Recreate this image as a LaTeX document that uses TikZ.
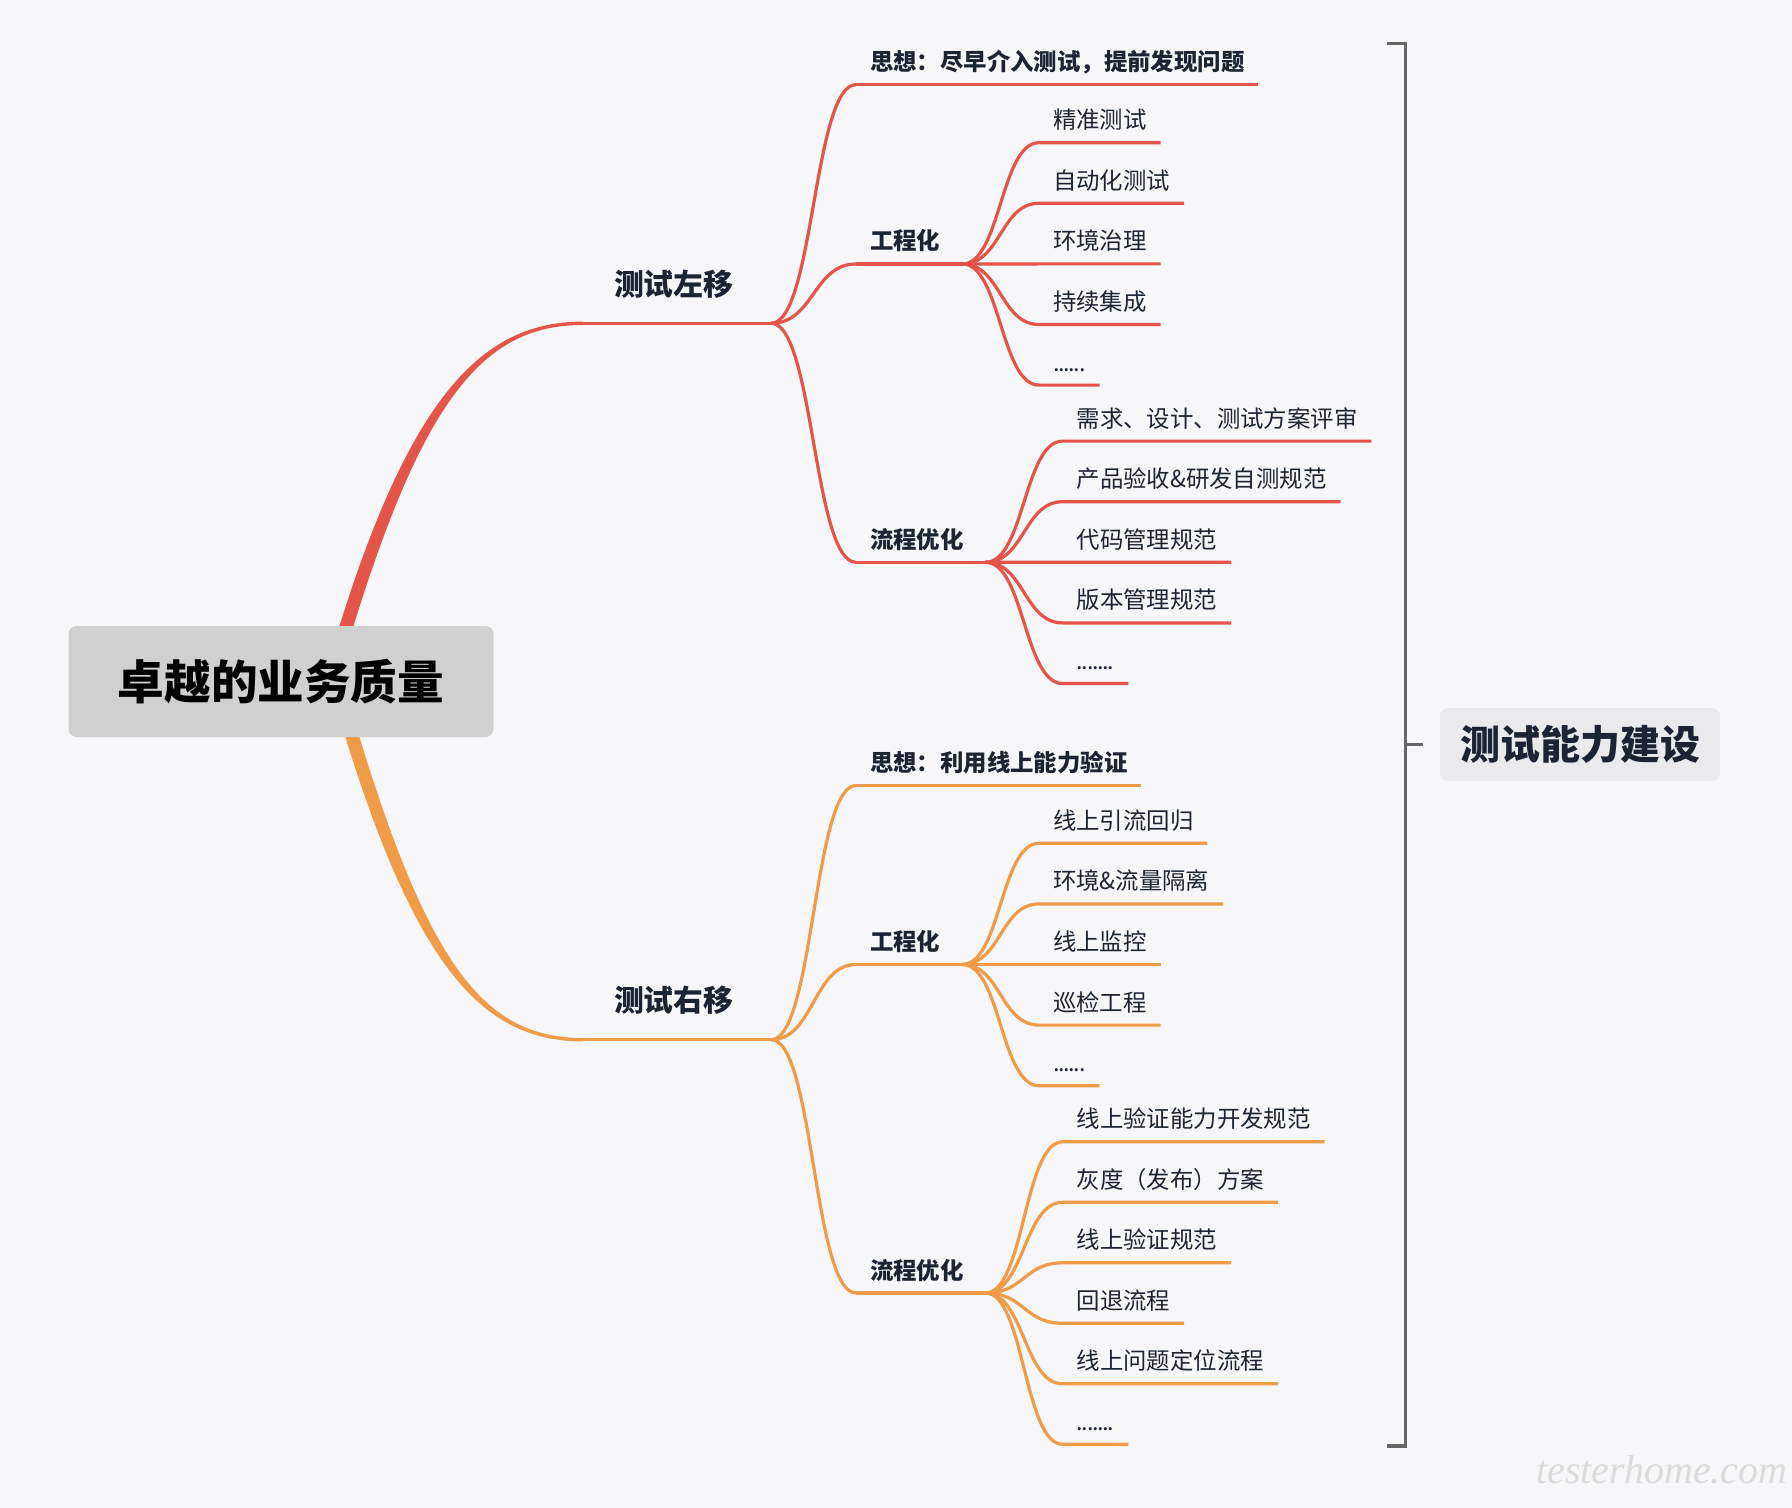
\documentclass[tikz,border=0pt]{standalone}
\usepackage{fontspec}
\setmainfont{Noto Sans CJK SC}
\newfontfamily\markfont{Liberation Serif}
\usepackage{tikz}
\usetikzlibrary{positioning, calc}

\definecolor{bgcol}{RGB}{247,247,249}
\definecolor{redbr}{RGB}{228,84,72}
\definecolor{orbr}{RGB}{239,155,71}
\definecolor{ink}{RGB}{28,35,51}
\definecolor{rootfill}{RGB}{208,208,208}
\definecolor{capfill}{RGB}{234,234,236}
\definecolor{brk}{RGB}{102,102,102}

\newcommand{\sixdots}{.\kern-0.65pt.\kern-0.65pt.\kern-0.65pt.\kern-0.65pt.\kern-0.65pt.}
\newcommand{\sevendots}{.\kern-0.65pt\sixdots}

\pgfdeclarelayer{back}
\pgfsetlayers{back,main}

\tikzset{
  rootbox/.style={fill=rootfill, rounded corners=4pt, inner sep=0pt,
    minimum width=212.5pt, minimum height=55.5pt,
    font=\fontsize{23.3pt}{28pt}\selectfont\bfseries, text=black},
  capbox/.style={fill=capfill, rounded corners=4pt, inner sep=0pt,
    minimum width=140pt, minimum height=36.5pt,
    font=\fontsize{20pt}{24pt}\selectfont\bfseries, text=ink},
  trunk/.style={anchor=south west, inner xsep=15.5pt, inner ysep=0pt, outer sep=0pt,
    text height=13.4pt, text depth=13.9pt,
    font=\fontsize{14.9pt}{18pt}\selectfont\bfseries, text=ink},
  stem/.style={anchor=south west, inner xsep=7pt, inner ysep=0pt, outer sep=0pt,
    text height=10.5pt, text depth=7pt,
    font=\fontsize{11.7pt}{14pt}\selectfont\bfseries, text=ink},
  leaf/.style={stem, font=\fontsize{11.7pt}{14pt}\selectfont},
  redln/.style={draw=redbr, line width=1.6pt},
  orln/.style={draw=orbr, line width=1.6pt},
  bough/.style={to path={.. controls +(#1,0) and +(-#1,0) .. (\tikztotarget)}}
}

\begin{document}
\begin{tikzpicture}[x=0.5pt, y=-0.5pt]
    \begin{pgfonlayer}{back}
        \fill[bgcol] (0,0) rectangle (1792,1508);
    \end{pgfonlayer}

    % Root and summary
    \node[rootbox] (root) at (281,681.5) {卓越的业务质量};
    \node[capbox] (cap) at (1580,744.5) {测试能力建设};

    % First level
    \node[trunk] (shl) at (583,323.3) {测试左移};
    \node[trunk] (shr) at (583,1039.7) {测试右移};
    \coordinate (shl-f) at ([xshift=3.5pt]shl.south east);
    \coordinate (shr-f) at ([xshift=3.5pt]shr.south east);

    % Tapered branches out of the root
    \begin{pgfonlayer}{back}
        \fill[redbr] ($(root.center)+(42,0)$) .. controls (403,398) and (480,321.6) .. ($(shl.south west)+(0,-1.7)$)
            -- ($(shl.south west)+(0,1.7)$) .. controls (480,325) and (417,402) .. ($(root.center)+(56,0)$) -- cycle;
        \fill[orbr] ($(root.center)+(48,0)$) .. controls (409,965) and (480,1041.4) .. ($(shr.south west)+(0,1.7)$)
            -- ($(shr.south west)+(0,-1.7)$) .. controls (480,1038) and (423,961) .. ($(root.center)+(62,0)$) -- cycle;
    \end{pgfonlayer}
    \draw[redln, line width=1.7pt] (shl.south west) -- (shl-f);
    \draw[orln, line width=1.7pt] (shr.south west) -- (shr-f);

    % Second level, left shift
    \node[stem] (idl) at (856,84.6) {思想：尽早介入测试，提前发现问题};
    \node[stem] (engl) at (856,264) {工程化};
    \node[stem] (prol) at (856,562.3) {流程优化};
    \coordinate (engl-f) at ([xshift=4pt]engl.south east);
    \coordinate (prol-f) at ([xshift=4pt]prol.south east);
    \foreach \n in {idl,engl,prol}
        \draw[redln] (shl-f) to[bough=42.5] (\n.south west);
    \draw[redln] (idl.south west) -- (idl.south east);
    \draw[redln] (engl.south west) -- (engl-f);
    \draw[redln] (prol.south west) -- (prol-f);

    % Second level, right shift
    \node[stem] (idr) at (856,785.5) {思想：利用线上能力验证};
    \node[stem] (engr) at (856,964.5) {工程化};
    \node[stem] (pror) at (856,1293) {流程优化};
    \coordinate (engr-f) at ([xshift=4pt]engr.south east);
    \coordinate (pror-f) at ([xshift=4pt]pror.south east);
    \foreach \n in {idr,engr,pror}
        \draw[orln] (shr-f) to[bough=42.5] (\n.south west);
    \draw[orln] (idr.south west) -- (idr.south east);
    \draw[orln] (engr.south west) -- (engr-f);
    \draw[orln] (pror.south west) -- (pror-f);

    % Leaves
    \foreach \t [count=\i] in {精准测试,自动化测试,环境治理,持续集成,\sixdots} {
        \node[leaf] (engl-\i) at (1039,{142.7+60.6*(\i-1)}) {\t};
        \draw[redln] (engl-f) to[bough=38.5] (engl-\i.south west) -- (engl-\i.south east);
    }
    \foreach \t [count=\i] in {需求、设计、测试方案评审,产品验收\&研发自测规范,代码管理规范,版本管理规范,\sevendots} {
        \node[leaf] (prol-\i) at (1062.6,{441.1+60.6*(\i-1)}) {\t};
        \draw[redln] (prol-f) to[bough=38.5] (prol-\i.south west) -- (prol-\i.south east);
    }
    \foreach \t [count=\i] in {线上引流回归,环境\&流量隔离,线上监控,巡检工程,\sixdots} {
        \node[leaf] (engr-\i) at (1039,{843.3+60.6*(\i-1)}) {\t};
        \draw[orln] (engr-f) to[bough=38.5] (engr-\i.south west) -- (engr-\i.south east);
    }
    \foreach \t [count=\i] in {线上验证能力开发规范,灰度（发布）方案,线上验证规范,回退流程,线上问题定位流程,\sevendots} {
        \node[leaf] (pror-\i) at (1062.6,{1141.8+60.5*(\i-1)}) {\t};
        \draw[orln] (pror-f) to[bough=38.5] (pror-\i.south west) -- (pror-\i.south east);
    }

    % Bracket to the summary
    \coordinate (brt) at (1387.3,43.3);
    \coordinate (brb) at (1387.3,1446);
    \coordinate (brm) at (1405.5,744.5);
    \draw[brk, line width=1.6pt] (brt) -| (brm |- brb) -- (brb);
    \draw[brk, line width=1.6pt] (brm) -- ([xshift=-8.5pt]cap.west);

    % Watermark
    \node[anchor=base east, inner sep=0pt, text=black!14,
          font=\markfont\itshape\fontsize{20pt}{24pt}\selectfont] (mark) at (1788,1483) {testerhome.com};
\end{tikzpicture}
\end{document}
